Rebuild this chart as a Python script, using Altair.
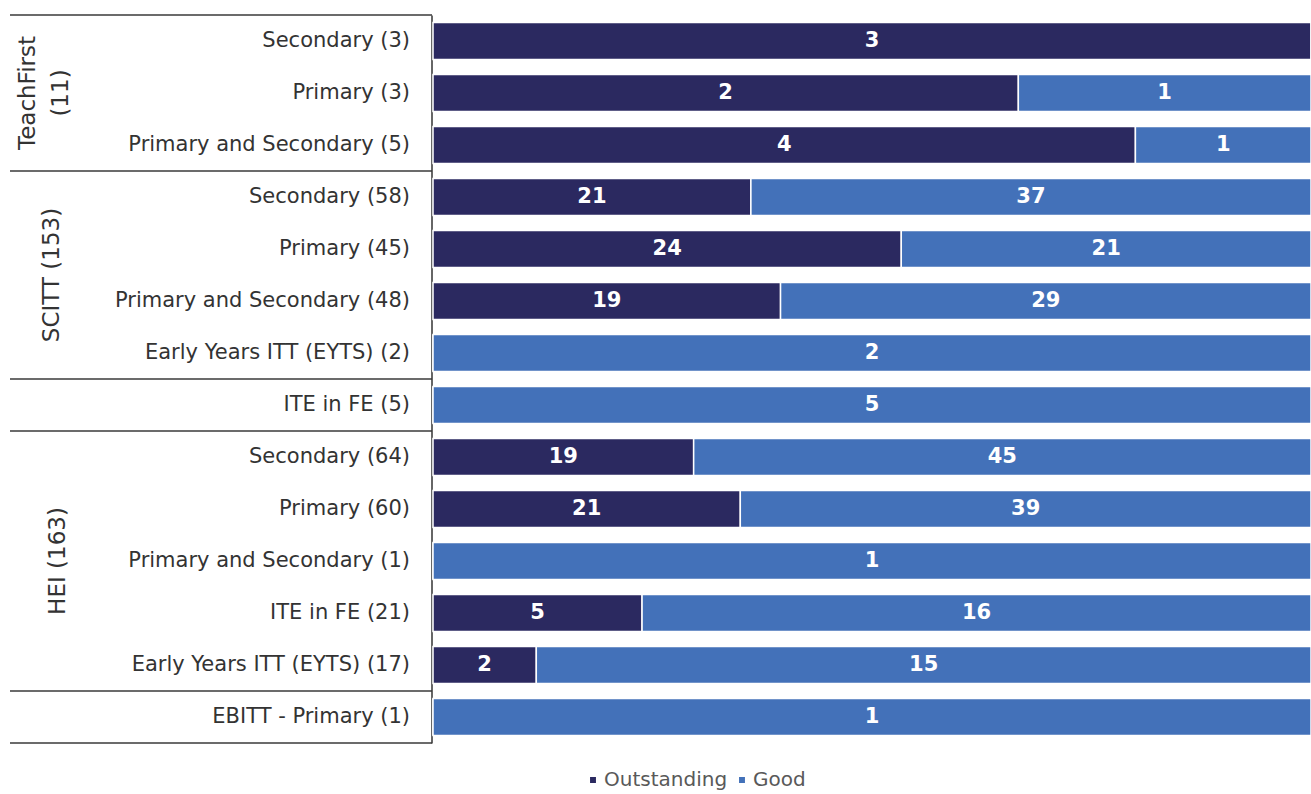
import altair as alt
import pandas as pd

# ---- data ----
row_labels = [
    "Secondary (3)", "Primary (3)", "Primary and Secondary (5)",
    "Secondary (58)", "Primary (45)", "Primary and Secondary (48)", "Early Years ITT (EYTS) (2)",
    "ITE in FE (5)",
    "Secondary (64)", "Primary (60)", "Primary and Secondary (1)", "ITE in FE (21)", "Early Years ITT (EYTS) (17)",
    "EBITT - Primary (1)",
]
outstanding = [3, 2, 4, 21, 24, 19, 0, 0, 19, 21, 0, 5, 2, 0]
good = [0, 1, 1, 37, 21, 29, 2, 5, 45, 39, 1, 16, 15, 1]
ratings = ["Outstanding", "Good"]
colors = ["#2B2960", "#4371B9"]

group_names = ["TeachFirst\n(11)", "SCITT (153)", "", "HEI (163)", ""]
group_sizes = [3, 4, 1, 5, 1]
group_xpix = [-405, -381, 0, -375, 0]  # horizontal placement of group captions (pixels from plot's left)

# ---- tables ----
rows = []
for i, lab in enumerate(row_labels):
    rows.append({"label": lab, "rating": "Outstanding", "ord": 0, "count": outstanding[i]})
    rows.append({"label": lab, "rating": "Good", "ord": 1, "count": good[i]})
df = pd.DataFrame(rows)

bounds = [0]
for s in group_sizes:
    bounds.append(bounds[-1] + s)
sep_df = pd.DataFrame({"pos": bounds})

grp_rows = []
for k, name in enumerate(group_names):
    if name:
        grp_rows.append({"name": name, "pos": (bounds[k] + bounds[k + 1]) / 2, "xp": group_xpix[k]})
grp_df = pd.DataFrame(grp_rows)

FONT = "DejaVu Sans"
n = len(row_labels)

yband = alt.Y(
    "label:N", sort=row_labels, title=None,
    scale=alt.Scale(paddingInner=0.29, paddingOuter=0.145),
    axis=alt.Axis(labelFontSize=21, labelFont=FONT, labelColor="#333333", labelPadding=22,
                  ticks=False, grid=False, domainColor="#333333", domainWidth=1.5,
                  labelLimit=420, offset=1.5),
)
xscale = alt.Scale(domain=[0, 1], nice=False, zero=True)

bars = alt.Chart(df).mark_bar(stroke="white", strokeWidth=1.5).encode(
    y=yband,
    x=alt.X("count:Q", stack="normalize", scale=xscale, axis=None),
    color=alt.Color("rating:N", scale=alt.Scale(domain=ratings, range=colors),
                    legend=alt.Legend(title=None, orient="none", legendX=150, legendY=755,
                                      direction="horizontal", symbolType="square", symbolSize=55,
                                      labelFontSize=20, labelFont=FONT, labelColor="#595959",
                                      columnPadding=4, labelOffset=1)),
    order=alt.Order("ord:Q"),
)

labels = alt.Chart(df).transform_stack(
    stack="count", groupby=["label"], as_=["x0", "x1"], offset="normalize",
    sort=[alt.SortField("ord", order="ascending")],
).transform_filter("datum.count > 0").transform_calculate(
    mid="(datum.x0 + datum.x1) / 2"
).mark_text(color="white", fontWeight="bold", fontSize=21, font=FONT).encode(
    y=alt.Y("label:N", sort=row_labels, axis=None),
    x=alt.X("mid:Q", scale=xscale, axis=None),
    text="count:Q",
)

qy = alt.Scale(domain=[0, n], reverse=True, nice=False, zero=False)

seps = alt.Chart(sep_df).mark_rule(color="#3a3a3a", strokeWidth=1.5).encode(
    y=alt.Y("pos:Q", scale=qy, axis=None),
    x=alt.value(-423),
    x2=alt.value(-1),
)

grp = alt.Chart(grp_df).mark_text(angle=270, fontSize=23, font=FONT, color="#333333",
                                  lineBreak="\n", lineHeight=33, align="center",
                                  baseline="middle").encode(
    y=alt.Y("pos:Q", scale=qy, axis=None),
    x=alt.X("xp:Q", scale=None, axis=None),
    text="name:N",
)

chart = alt.layer(bars, labels, seps, grp).resolve_scale(y="independent").properties(
    width=878, height=728,
    padding={"left": 433, "top": 15, "right": 0, "bottom": 51},
    autosize=alt.AutoSizeParams(type="none"),
    background="white",
).configure_view(stroke=None, strokeWidth=0).configure_axis(grid=False)

chart.save("out.html", embed_options={"renderer": "svg", "actions": False})
